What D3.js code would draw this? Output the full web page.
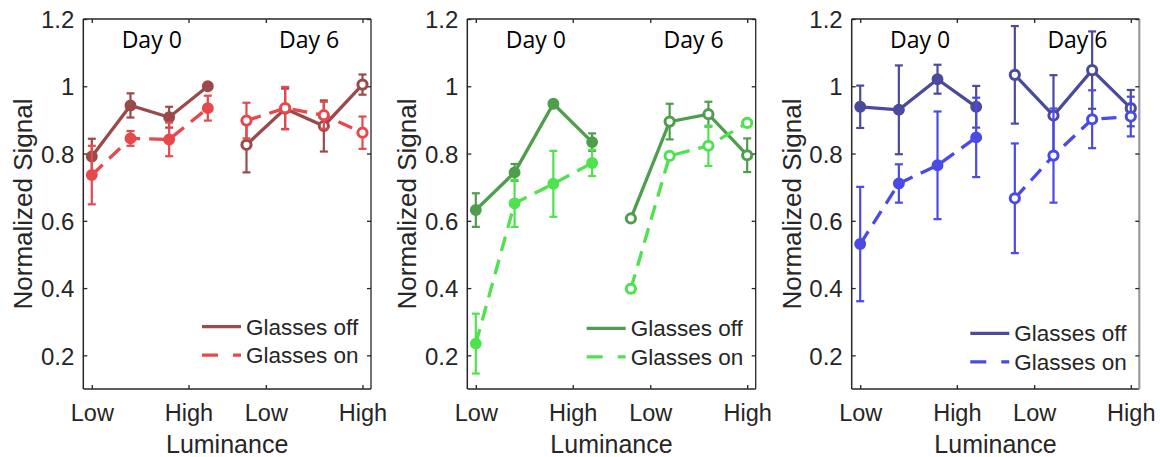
<!DOCTYPE html>
<html>
<head>
<meta charset="utf-8">
<script src="https://cdn.jsdelivr.net/npm/d3@7"></script>
<style>
	body { margin: 0; background: #fff; }
	svg { display: block; }
	.tick-label { font-family: "Liberation Sans", Arial, sans-serif; fill: #262626; }
	.axis-title { font-family: "Liberation Sans", Arial, sans-serif; fill: #262626; }
	.day-label { font-family: "Open Sans", sans-serif; fill: #000; }
</style>
</head>
<body>
<svg id="chart" width="1160" height="457"></svg>
<script>

// Positions along the luminance axis: 1-4 are Day 0, 5-8 are Day 6.
var positions = [ 1, 2, 3, 4, 5, 6, 7, 8 ];

var xTickValues = [ 1, 3.5, 5.5, 8 ];
var xTickLabels = [ 'Low', 'High', 'Low', 'High' ];
var yTickValues = [ 0.2, 0.4, 0.6, 0.8, 1, 1.2 ];
var yTickLabels = [ '0.2', '0.4', '0.6', '0.8', '1', '1.2' ];

var dayLabels = [ 'Day 0', 'Day 6' ];
var dayLabelPositions = [ 2.55, 6.62 ];
var seriesNames = [ 'Glasses off', 'Glasses on' ];

// Red panel.
var redOff = [ 0.791, 0.943, 0.908, 1.000, 0.826, 0.933, 0.882, 1.005 ];
var redOffErr = [ 0.053, 0.036, 0.031, 0.000, 0.082, 0.060, 0.076, 0.030 ];
var redOn = [ 0.736, 0.845, 0.842, 0.935, 0.898, 0.935, 0.914, 0.862 ];
var redOnErr = [ 0.087, 0.022, 0.050, 0.037, 0.053, 0.063, 0.040, 0.048 ];

// Green panel.
var greenOff = [ 0.632, 0.744, 0.948, 0.834, 0.607, 0.895, 0.917, 0.795 ];
var greenOffErr = [ 0.050, 0.025, 0.000, 0.026, 0.008, 0.053, 0.037, 0.050 ];
var greenOn = [ 0.235, 0.652, 0.710, 0.772, 0.398, 0.793, 0.823, 0.891 ];
var greenOnErr = [ 0.089, 0.070, 0.098, 0.039, 0.012, 0.008, 0.060, 0.000 ];

// Blue panel.
var blueOff = [ 0.939, 0.930, 1.021, 0.939, 1.034, 0.913, 1.048, 0.935 ];
var blueOffErr = [ 0.063, 0.132, 0.043, 0.062, 0.145, 0.120, 0.115, 0.054 ];
var blueOn = [ 0.531, 0.711, 0.765, 0.848, 0.667, 0.794, 0.902, 0.910 ];
var blueOnErr = [ 0.170, 0.057, 0.160, 0.118, 0.163, 0.140, 0.086, 0.059 ];


var svg = d3.select( '#chart' );

// Each panel: where its box sits and which colours it uses.
var panels = [
	{ left: 83.3, right: 371, legendY: 326.7, offColor: '#9a4a4b', onColor: '#e8484b',
		off: redOff, offErr: redOffErr, on: redOn, onErr: redOnErr, rightAxis: '#262626' },
	{ left: 467.3, right: 755.7, legendY: 328.3, offColor: '#4e9e4e', onColor: '#4fe24f',
		off: greenOff, offErr: greenOffErr, on: greenOn, onErr: greenOnErr, rightAxis: '#262626' },
	{ left: 851.7, right: 1139.3, legendY: 333.3, offColor: '#4a4a9e', onColor: '#4a4ae6',
		off: blueOff, offErr: blueOffErr, on: blueOn, onErr: blueOnErr, rightAxis: '#9a9a9a' }
];

// Note: "top" is taken by window.top, hence the longer names.
var plotTop = 19;
var plotBottom = 389;

var y = d3.scaleLinear().domain( [ 0.1, 1.2 ] ).range( [ plotBottom, plotTop ] );


function drawSeries( g, x, values, errs, color, dashed ) {

	var pts = positions.map( function ( p, i ) {
		return { p: p, v: values[i], e: errs[i], day: p <= 4 ? 0 : 1 };
	} );

	var line = d3.line()
		.x( function ( d ) { return x( d.p ); } )
		.y( function ( d ) { return y( d.v ); } );

	// Lines only join points of the same day.
	[ 0, 1 ].forEach( function ( day ) {
		g.append( 'path' )
			.datum( pts.filter( function ( d ) { return d.day === day; } ) )
			.attr( 'd', line )
			.attr( 'fill', 'none' )
			.attr( 'stroke', color )
			.attr( 'stroke-width', 3.3 )
			.attr( 'stroke-dasharray', dashed ? '15,9' : null );
	} );

	var bars = g.selectAll( null )
		.data( pts.filter( function ( d ) { return d.e > 0; } ) )
		.enter()
		.append( 'g' )
		.attr( 'stroke', color )
		.attr( 'stroke-width', 2.2 );

	bars.append( 'line' )
		.attr( 'x1', function ( d ) { return x( d.p ); } )
		.attr( 'x2', function ( d ) { return x( d.p ); } )
		.attr( 'y1', function ( d ) { return y( d.v - d.e ); } )
		.attr( 'y2', function ( d ) { return y( d.v + d.e ); } );

	[ -1, 1 ].forEach( function ( s ) {
		bars.append( 'line' )
			.attr( 'x1', function ( d ) { return x( d.p ) - 4; } )
			.attr( 'x2', function ( d ) { return x( d.p ) + 4; } )
			.attr( 'y1', function ( d ) { return y( d.v + s * d.e ); } )
			.attr( 'y2', function ( d ) { return y( d.v + s * d.e ); } );
	} );

	// Filled markers for Day 0, open ones for Day 6.
	g.selectAll( null )
		.data( pts )
		.enter()
		.append( 'circle' )
		.attr( 'cx', function ( d ) { return x( d.p ); } )
		.attr( 'cy', function ( d ) { return y( d.v ); } )
		.attr( 'r', function ( d ) { return d.day === 0 ? 5.2 : 4.6; } )
		.attr( 'fill', function ( d ) { return d.day === 0 ? color : '#fff'; } )
		.attr( 'stroke', color )
		.attr( 'stroke-width', function ( d ) { return d.day === 0 ? 1.5 : 3; } );

}


function drawPanel( panel ) {

	var x = d3.scaleLinear().domain( [ 0.78, 8.22 ] ).range( [ panel.left, panel.right ] );
	var g = svg.append( 'g' );
	var axisColor = '#262626';

	// Box, with inward ticks mirrored on the top and right.
	g.append( 'line' ).attr( 'x1', panel.left ).attr( 'x2', panel.right )
		.attr( 'y1', plotTop ).attr( 'y2', plotTop ).attr( 'stroke', axisColor ).attr( 'stroke-width', 1.3 );
	g.append( 'line' ).attr( 'x1', panel.left ).attr( 'x2', panel.right )
		.attr( 'y1', plotBottom ).attr( 'y2', plotBottom ).attr( 'stroke', axisColor ).attr( 'stroke-width', 1.5 );
	g.append( 'line' ).attr( 'x1', panel.left ).attr( 'x2', panel.left )
		.attr( 'y1', plotTop ).attr( 'y2', plotBottom ).attr( 'stroke', axisColor ).attr( 'stroke-width', 1.5 );
	g.append( 'line' ).attr( 'x1', panel.right ).attr( 'x2', panel.right )
		.attr( 'y1', plotTop ).attr( 'y2', plotBottom ).attr( 'stroke', panel.rightAxis )
		.attr( 'stroke-width', panel.rightAxis === axisColor ? 1.3 : 2.2 );

	var yAxisL = d3.axisLeft( y ).tickValues( yTickValues ).tickSize( -4 ).tickPadding( 9 )
		.tickFormat( function ( d, i ) { return yTickLabels[i]; } );
	var yAxisR = d3.axisRight( y ).tickValues( yTickValues ).tickSize( -4 ).tickFormat( '' );
	var xAxisB = d3.axisBottom( x ).tickValues( xTickValues ).tickSize( -4 ).tickPadding( 15 )
		.tickFormat( function ( d, i ) { return xTickLabels[i]; } );
	var xAxisT = d3.axisTop( x ).tickValues( xTickValues ).tickSize( -4 ).tickFormat( '' );

	var axes = [
		g.append( 'g' ).attr( 'transform', 'translate(' + panel.left + ',0)' ).call( yAxisL ),
		g.append( 'g' ).attr( 'transform', 'translate(' + panel.right + ',0)' ).call( yAxisR ),
		g.append( 'g' ).attr( 'transform', 'translate(0,' + plotBottom + ')' ).call( xAxisB ),
		g.append( 'g' ).attr( 'transform', 'translate(0,' + plotTop + ')' ).call( xAxisT )
	];
	axes.forEach( function ( a ) {
		a.select( '.domain' ).remove();
		a.selectAll( '.tick line' ).attr( 'stroke', axisColor ).attr( 'stroke-width', 1.3 );
		a.selectAll( '.tick text' ).attr( 'class', 'tick-label' ).attr( 'fill', axisColor );
	} );
	axes[0].selectAll( '.tick text' ).style( 'font-size', '24px' ).attr( 'dy', '0.36em' );
	axes[2].selectAll( '.tick text' ).style( 'font-size', '23.5px' );

	// Axis titles.
	g.append( 'text' )
		.attr( 'class', 'axis-title' )
		.attr( 'transform', 'translate(' + ( panel.left - 51 ) + ',' + ( ( plotTop + plotBottom ) / 2 ) + ') rotate(-90)' )
		.attr( 'text-anchor', 'middle' )
		.style( 'font-size', '26px' )
		.text( 'Normalized Signal' );

	g.append( 'text' )
		.attr( 'class', 'axis-title' )
		.attr( 'x', ( panel.left + panel.right ) / 2 )
		.attr( 'y', 453 )
		.attr( 'text-anchor', 'middle' )
		.style( 'font-size', '25px' )
		.text( 'Luminance' );

	// Day labels.
	g.selectAll( null )
		.data( dayLabels )
		.enter()
		.append( 'text' )
		.attr( 'class', 'day-label' )
		.attr( 'x', function ( d, i ) { return x( dayLabelPositions[i] ); } )
		.attr( 'y', 48 )
		.attr( 'text-anchor', 'middle' )
		.style( 'font-size', '23px' )
		.text( function ( d ) { return d; } );

	drawSeries( g, x, panel.off, panel.offErr, panel.offColor, false );
	drawSeries( g, x, panel.on, panel.onErr, panel.onColor, true );

	// Legend.
	var lx = panel.right - 169;
	[ 0, 1 ].forEach( function ( i ) {
		var ly = panel.legendY + i * 28.5;
		g.append( 'line' )
			.attr( 'x1', lx ).attr( 'x2', lx + 39 )
			.attr( 'y1', ly ).attr( 'y2', ly )
			.attr( 'stroke', i === 0 ? panel.offColor : panel.onColor )
			.attr( 'stroke-width', 3.3 )
			.attr( 'stroke-dasharray', i === 0 ? null : '16,15' );
		g.append( 'text' )
			.attr( 'class', 'tick-label' )
			.attr( 'x', lx + 44 )
			.attr( 'y', ly )
			.attr( 'dy', '0.36em' )
			.style( 'font-size', '22.5px' )
			.text( seriesNames[i] );
	} );

}

panels.forEach( drawPanel );

</script>
</body>
</html>
